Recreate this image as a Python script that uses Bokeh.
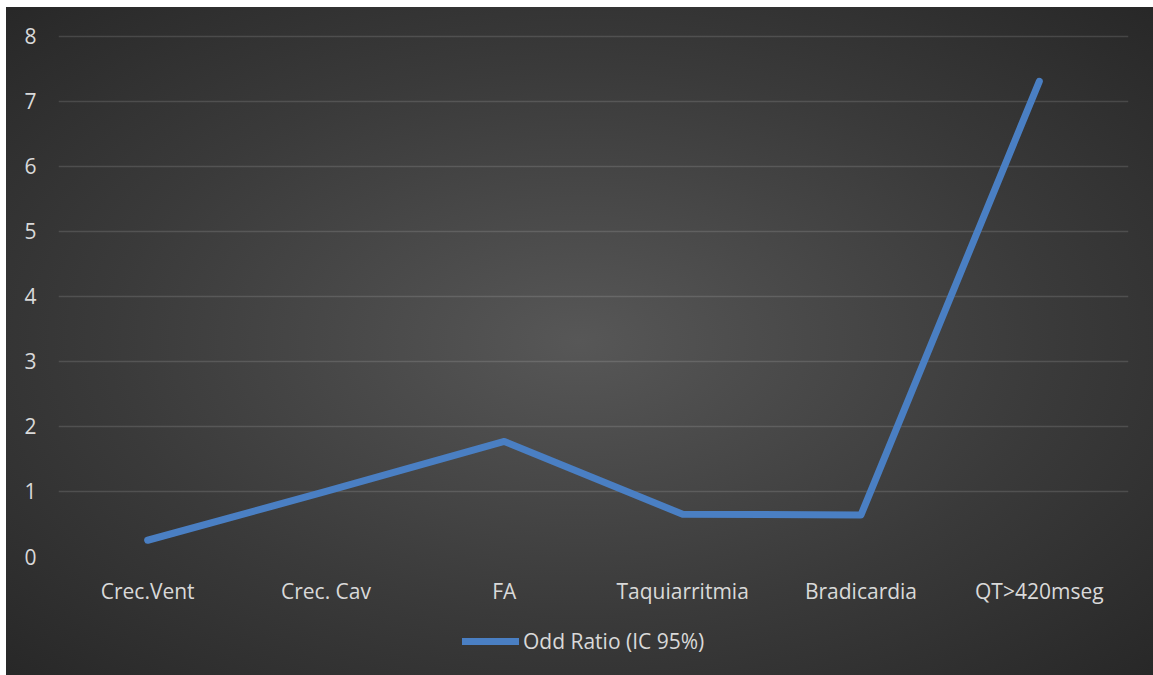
from bokeh.plotting import figure
from bokeh.layouts import column
from bokeh.models import Range1d, FactorRange, Legend, LegendItem, ColumnDataSource
from bokeh.embed import file_html
from bokeh.resources import INLINE

categories = ["Crec.Vent", "Crec. Cav", "FA", "Taquiarritmia", "Bradicardia", "QT>420mseg"]
odd_ratio = [0.25, 1.0, 1.77, 0.65, 0.64, 7.31]
y_ticks = [0, 1, 2, 3, 4, 5, 6, 7, 8]
series_name = "Odd Ratio (IC 95%)"

FONT = "Open Sans"
TEXT = "#d9d9d9"
LINE = "#4a7fc3"

p = figure(
    width=1147, height=608,
    x_range=FactorRange(*categories, range_padding=0),
    y_range=Range1d(0, 8.092),
    output_backend="svg", toolbar_location=None,
    min_border_left=52, min_border_right=25, min_border_top=23, min_border_bottom=59,
)
p.background_fill_alpha = 0
p.border_fill_alpha = 0
p.outline_line_color = None

src = ColumnDataSource(dict(x=categories, y=odd_ratio))
r = p.line("x", "y", source=src, line_color=LINE, line_width=7,
           line_cap="round", line_join="round")

p.xgrid.grid_line_color = None
p.ygrid.grid_line_color = "white"
p.ygrid.grid_line_alpha = 0.13
p.ygrid.grid_line_width = 1.5
p.yaxis.ticker = y_ticks

for ax in (p.xaxis[0], p.yaxis[0]):
    ax.axis_line_color = None
    ax.major_tick_line_color = None
    ax.minor_tick_line_color = None
    ax.major_tick_out = 0
    ax.major_tick_in = 0
    ax.major_label_text_font = FONT
    ax.major_label_text_font_size = "21px"
    ax.major_label_text_color = TEXT
p.yaxis.major_label_standoff = 22
p.xaxis.major_label_standoff = 20

# legend strip below the chart (its line lies outside the strip's ranges)
p2 = figure(width=1147, height=60, output_backend="svg", toolbar_location=None,
            min_border=0, x_range=Range1d(0, 1), y_range=Range1d(0, 1))
p2.background_fill_alpha = 0
p2.border_fill_alpha = 0
p2.outline_line_color = None
p2.axis.visible = False
p2.grid.grid_line_color = None
r2 = p2.line(x=[5, 6], y=[5, 5], line_color=LINE, line_width=7, line_cap="round")

legend = Legend(items=[LegendItem(label=series_name, renderers=[r2])],
                location=(404, 20), orientation="horizontal",
                glyph_width=57, label_standoff=4,
                label_text_font=FONT, label_text_font_size="21px",
                label_text_color=TEXT,
                background_fill_alpha=0, border_line_color=None,
                margin=0, padding=0)
p2.add_layout(legend, "center")

layout = column(p, p2, spacing=0, styles={
    "margin-left": "6px",
    "margin-top": "7px",
    "background": "radial-gradient(ellipse 75% 75% at 50% 50%, #575757 0%, #3a3a3a 55%, #252525 100%)",
})

open("out.html", "w").write(file_html(layout, INLINE))
